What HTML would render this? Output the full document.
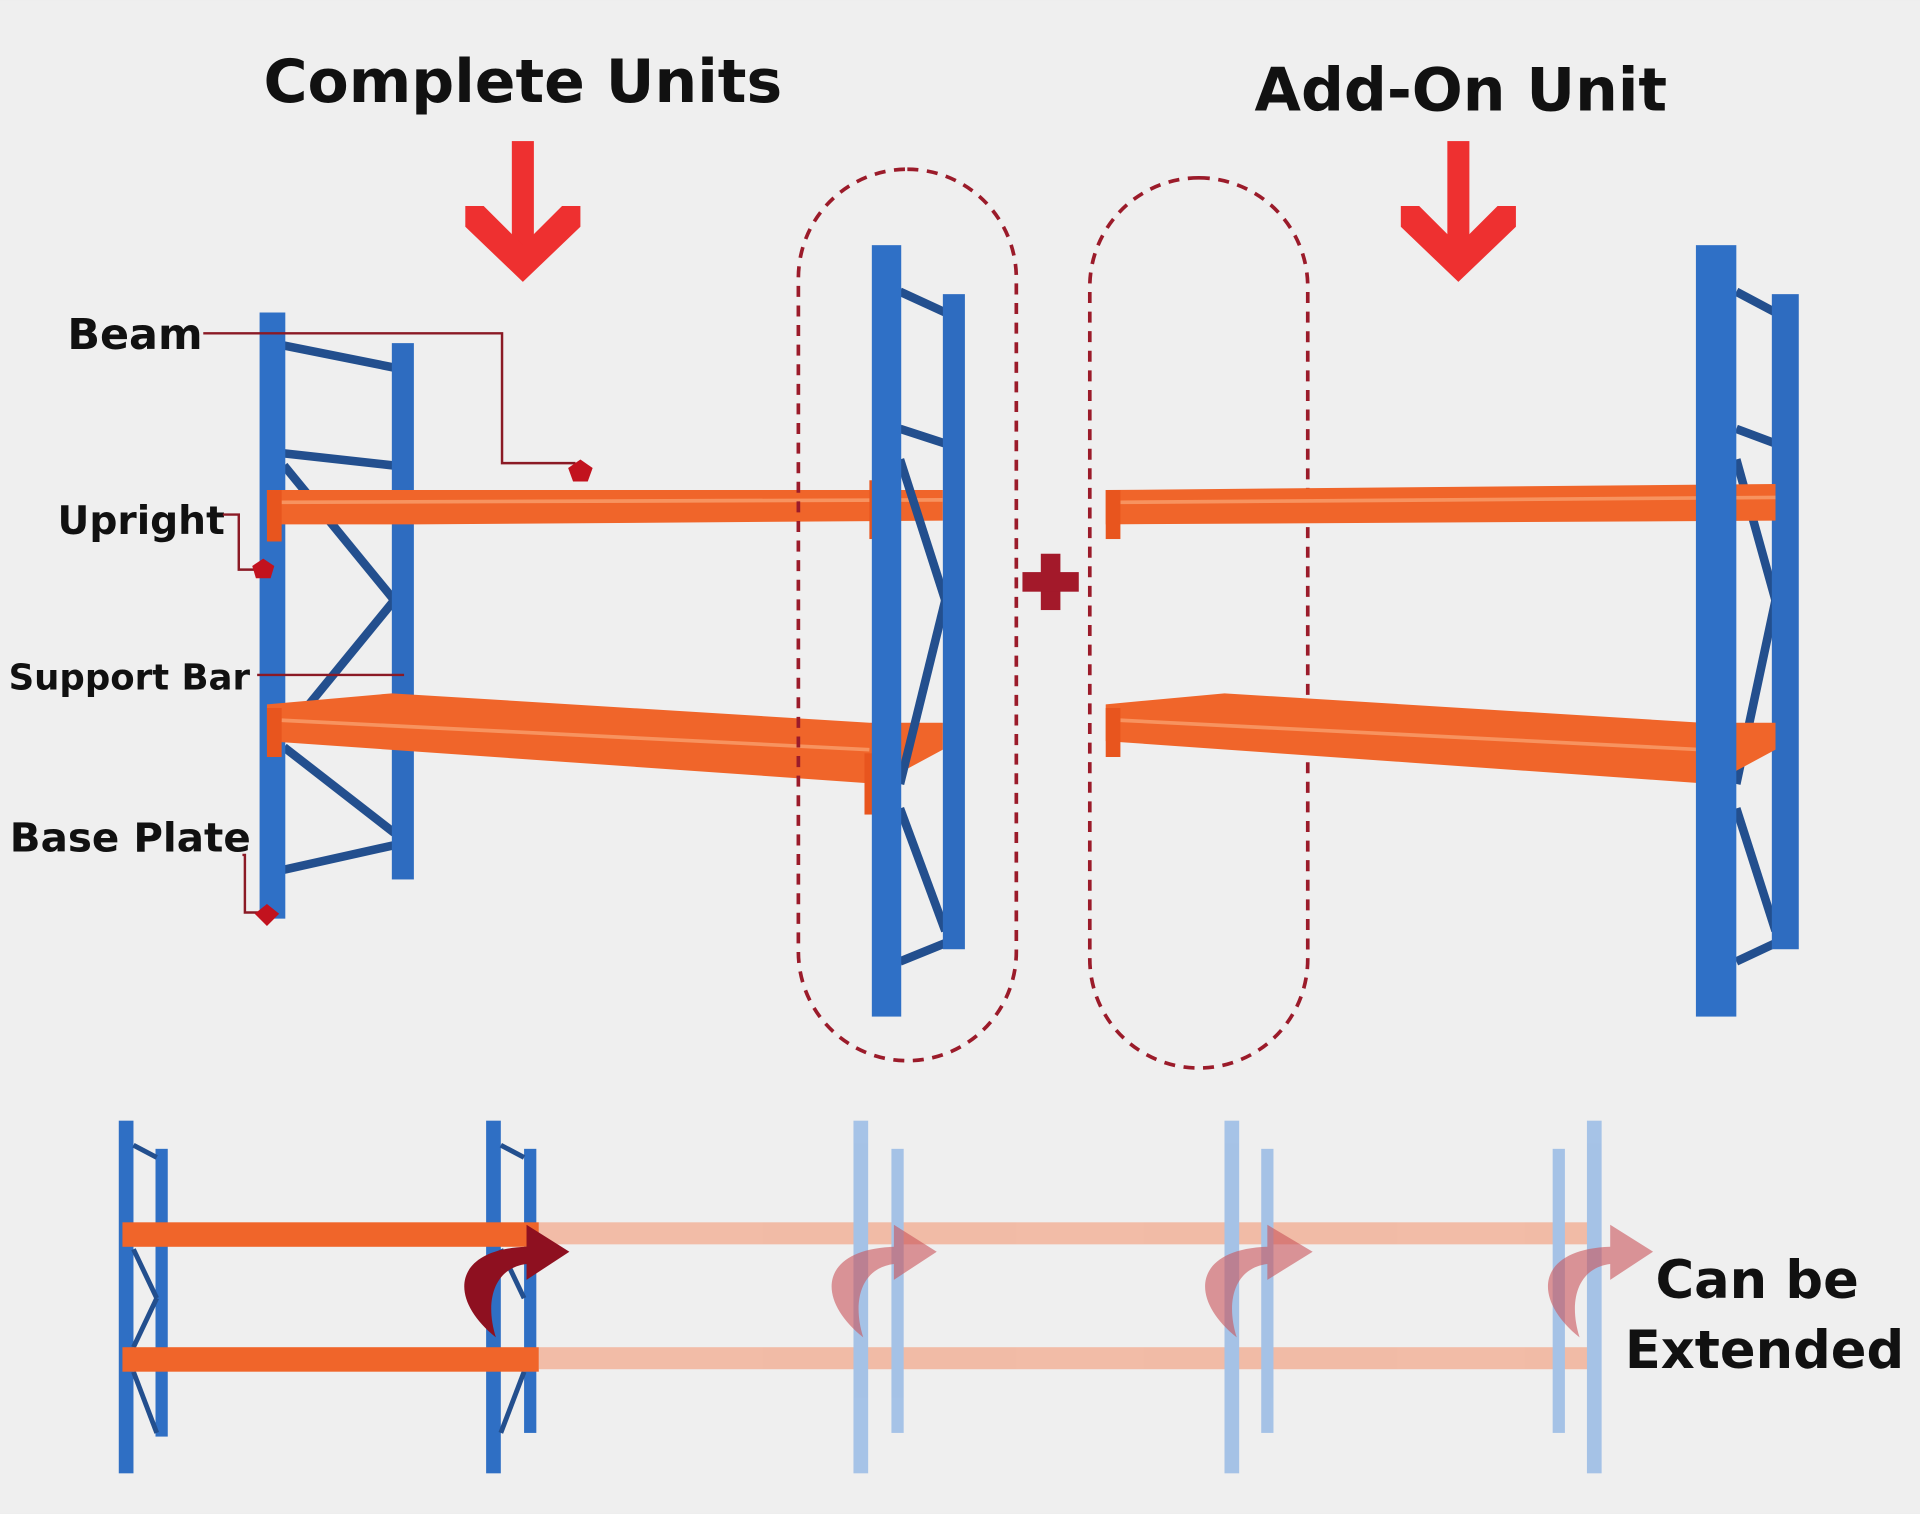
<!DOCTYPE html>
<html><head><meta charset="utf-8"><style>
html,body{margin:0;padding:0;background:#efefef;}
svg{display:block;}
text{font-family:"DejaVu Sans","Liberation Sans",sans-serif;font-weight:bold;fill:#111;}
</style></head><body>
<svg width="1920" height="1514" viewBox="0 0 1568 1236" xmlns="http://www.w3.org/2000/svg">
<rect width="1568" height="1236" fill="#efefef"/>
<!-- titles -->
<text x="427" y="83" font-size="49" text-anchor="middle">Complete Units</text>
<text x="1193" y="90" font-size="49" text-anchor="middle">Add-On Unit</text>
<!-- red arrows -->
<g fill="#ee3030">
<rect x="418" y="115" width="18" height="90"/>
<polygon points="380,168 395,168 427,200 459,168 474,168 474,185 427,230 380,185"/>
<rect x="1182" y="115" width="18" height="90"/>
<polygon points="1144,168 1159,168 1191,200 1223,168 1238,168 1238,185 1191,230 1144,185"/>
</g>
<!-- LEFT UNIT -->
<g stroke="#234f8e" stroke-width="7">
<line x1="232" y1="282" x2="322" y2="300"/>
<line x1="232" y1="370" x2="322" y2="380"/>
<line x1="232" y1="380" x2="322" y2="490"/>
<line x1="322" y1="490" x2="232" y2="600"/>
<line x1="232" y1="610" x2="322" y2="680"/>
<line x1="232" y1="710" x2="322" y2="690"/>
</g>
<rect x="320" y="280" width="18" height="438" fill="#2e6cc0"/>
<rect x="212" y="255" width="21" height="495" fill="#2f70c6"/>
<!-- beams left -->
<polygon points="218,400 770,400 770,425 340,428 218,428" fill="#f0652a"/>
<line x1="230" y1="410" x2="770" y2="408" stroke="#f7935f" stroke-width="3"/>
<rect x="218" y="400" width="12" height="42" fill="#e8551e"/>
<rect x="710" y="392" width="12" height="48" fill="#e8551e"/>
<polygon points="218,575 320,566 710,590 770,590 770,612 718,640 218,605" fill="#f0652a"/>
<line x1="230" y1="588" x2="710" y2="612" stroke="#f7935f" stroke-width="3"/>
<rect x="218" y="578" width="12" height="40" fill="#e8551e"/>
<rect x="706" y="615" width="12" height="50" fill="#e8551e"/>
<!-- middle upright -->
<g stroke="#234f8e" stroke-width="7">
<line x1="735" y1="238" x2="772" y2="255"/>
<line x1="735" y1="350" x2="772" y2="362"/>
<line x1="735" y1="375" x2="772" y2="490"/>
<line x1="772" y1="490" x2="735" y2="640"/>
<line x1="735" y1="660" x2="772" y2="760"/>
<line x1="735" y1="785" x2="772" y2="770"/>
</g>
<rect x="770" y="240" width="18" height="535" fill="#2e6cc0"/>
<rect x="712" y="200" width="24" height="630" fill="#2f70c6"/>
<!-- ovals -->
<rect x="652" y="138" width="178" height="728" rx="89" fill="none" stroke="#9b1b2a" stroke-width="3" stroke-dasharray="9,7"/>
<rect x="890" y="145" width="178" height="727" rx="89" fill="none" stroke="#9b1b2a" stroke-width="3" stroke-dasharray="9,7"/>
<!-- plus -->
<g fill="#a3192a"><rect x="850" y="452" width="16" height="46"/><rect x="835" y="467" width="46" height="16"/></g>
<!-- RIGHT UNIT -->
<g stroke="#234f8e" stroke-width="7">
<line x1="1418" y1="238" x2="1450" y2="255"/>
<line x1="1418" y1="350" x2="1450" y2="362"/>
<line x1="1418" y1="375" x2="1450" y2="490"/>
<line x1="1450" y1="490" x2="1418" y2="640"/>
<line x1="1418" y1="660" x2="1450" y2="760"/>
<line x1="1418" y1="785" x2="1450" y2="770"/>
</g>
<rect x="1447" y="240" width="22" height="535" fill="#2e6cc0"/>
<polygon points="903,400 1450,395 1450,425 903,428" fill="#f0652a"/>
<line x1="915" y1="410" x2="1450" y2="406" stroke="#f7935f" stroke-width="3"/>
<rect x="903" y="400" width="12" height="40" fill="#e8551e"/>
<rect x="1392" y="390" width="12" height="48" fill="#e8551e"/>
<polygon points="903,575 1000,566 1390,590 1450,590 1450,612 1398,640 903,605" fill="#f0652a"/>
<line x1="915" y1="588" x2="1390" y2="612" stroke="#f7935f" stroke-width="3"/>
<rect x="903" y="578" width="12" height="40" fill="#e8551e"/>
<rect x="1390" y="615" width="12" height="45" fill="#e8551e"/>
<rect x="1385" y="200" width="33" height="630" fill="#2f70c6"/>
<!-- labels -->
<text x="55" y="285" font-size="35">Beam</text>
<text x="47" y="436" font-size="32">Upright</text>
<text x="7" y="563" font-size="29">Support Bar</text>
<text x="8" y="695" font-size="33">Base Plate</text>
<g stroke="#8b1a25" stroke-width="2" fill="none">
<polyline points="166,272 410,272 410,378 470,378"/>
<polyline points="182,420 195,420 195,465 212,465"/>
<line x1="210" y1="551" x2="330" y2="551"/>
<polyline points="198,698 200,698 200,745 215,745"/>
</g>
<g fill="#c2121e">
<polygon points="474,375 484,382 480,393 468,393 464,382"/>
<polygon points="215,456 224,462 221,472 209,472 206,462"/>
<polygon points="218,738 228,746 218,756 208,746"/>
</g>
<!-- BOTTOM STRIP -->
<g opacity="0.55">
<rect x="440" y="998" width="865" height="18" fill="#f4926b"/>
<rect x="440" y="1100" width="865" height="18" fill="#f4926b"/>
<g fill="#6a9ee0">
<rect x="697" y="915" width="12" height="288"/><rect x="728" y="938" width="10" height="232"/>
<rect x="1000" y="915" width="12" height="288"/><rect x="1030" y="938" width="10" height="232"/>
<rect x="1268" y="938" width="10" height="232"/><rect x="1296" y="915" width="12" height="288"/>
</g>
</g>
<g fill="#2f6fc4">
<rect x="97" y="915" width="12" height="288"/><rect x="127" y="938" width="10" height="235"/>
<rect x="397" y="915" width="12" height="288"/><rect x="428" y="938" width="10" height="232"/>
</g>
<g stroke="#234f8e" stroke-width="4">
<line x1="109" y1="935" x2="128" y2="945"/><line x1="109" y1="1020" x2="128" y2="1060"/><line x1="128" y1="1060" x2="109" y2="1100"/><line x1="109" y1="1120" x2="128" y2="1170"/>
<line x1="409" y1="935" x2="428" y2="945"/><line x1="409" y1="1020" x2="428" y2="1060"/><line x1="428" y1="1120" x2="409" y2="1170"/>
</g>
<rect x="100" y="998" width="340" height="20" fill="#f0652a"/>
<rect x="100" y="1100" width="340" height="20" fill="#f0652a"/>
<g fill="#8e1020">
<path d="M405,1092 C365,1060 370,1020 430,1018 L430,1000 L465,1022 L430,1045 L430,1032 C405,1035 395,1060 405,1092 Z"/>
</g>
<g fill="#c9545a" opacity="0.6">
<path d="M705,1092 C665,1060 670,1020 730,1018 L730,1000 L765,1022 L730,1045 L730,1032 C705,1035 695,1060 705,1092 Z"/>
<path d="M1010,1092 C970,1060 975,1020 1035,1018 L1035,1000 L1072,1022 L1035,1045 L1035,1032 C1010,1035 1000,1060 1010,1092 Z"/>
<path d="M1290,1092 C1250,1060 1255,1020 1315,1018 L1315,1000 L1350,1022 L1315,1045 L1315,1032 C1290,1035 1280,1060 1290,1092 Z"/>
</g>
<text x="1435" y="1060" font-size="43" text-anchor="middle">Can be</text>
<text x="1441" y="1117" font-size="43" text-anchor="middle">Extended</text>
</svg>
</body></html>
